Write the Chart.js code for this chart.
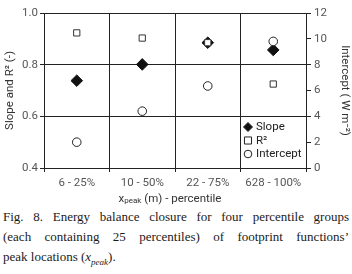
<!DOCTYPE html>
<html>
<head>
<meta charset="utf-8">
<script src="https://cdn.jsdelivr.net/npm/chart.js@4"></script>
<style>
  body { margin: 0; background: #fff; width: 352px; height: 274px; overflow: hidden; }
  #wrap { position: relative; width: 352px; height: 206px; }
  .cap { font-family: "Liberation Serif", LiberationSerif, Tinos, "Noto Serif", Times, serif; font-size: 13px; color: #1a1a1a;
         line-height: 20px; margin: 0 3px; white-space: nowrap; }
  .just { text-align: justify; text-align-last: justify; white-space: normal; }
</style>
</head>
<body>
<div id="wrap"><canvas id="chart" width="352" height="206"></canvas></div>
<div style="position:absolute; top:207px; left:0; width:352px;">
  <div class="cap just">Fig. 8. Energy balance closure for four percentile groups</div>
  <div class="cap just">(each containing 25 percentiles) of footprint functions’</div>
  <div class="cap">peak locations (<i>x<sub style="font-size:9px">peak</sub></i>).</div>
</div>
<script>
// categories and values
const groups = ['6 - 25%', '10 - 50%', '22 - 75%', '628 - 100%'];
const slope = [0.738, 0.801, 0.885, 0.857];
const r2 = [0.923, 0.903, 0.885, 0.725];
const intercept = [2.0, 4.4, 6.35, 9.8];

const leftTicks = [0.4, 0.6, 0.8, 1.0];
const rightTicks = [0, 2, 4, 6, 8, 10, 12];

const sans = 'Roboto, "Liberation Sans", Arial, sans-serif';
const tickFont = { family: sans, size: 11.5 };
const tickColor = '#555';

// legend inside the plot + x title with subscript
const extras = {
  id: 'extras',
  afterDraw(chart) {
    const c = chart.ctx;
    const a = chart.chartArea;
    c.save();
    const items = [
      { label: 'Slope', style: 'rectRot', r: 4.5, fill: '#111' },
      { label: 'R²', style: 'rect', r: 5, fill: '#fff' },
      { label: 'Intercept', style: 'circle', r: 3.8, fill: '#fff' }
    ];
    const x0 = a.right - 58, y0 = a.bottom - 41;
    c.font = '11.5px ' + sans;
    c.textBaseline = 'middle';
    items.forEach((it, i) => {
      const y = y0 + i * 13.5;
      c.fillStyle = it.fill;
      c.strokeStyle = '#222';
      c.lineWidth = 1;
      Chart.helpers.drawPoint(c, { pointStyle: it.style, radius: it.r, borderWidth: 1 }, x0, y);
      c.fillStyle = '#222';
      c.fillText(it.label, x0 + 8, y + 0.5);
    });
    // x axis title
    const big = '11.5px ' + sans;
    const small = '8px ' + sans;
    const parts = [['x', big, 0], ['peak', small, 2], [' (m) - percentile', big, 0]];
    let w = 0;
    parts.forEach(p => { c.font = p[1]; w += c.measureText(p[0]).width; });
    let x = 170 - w / 2;
    const ty = a.bottom + 31;
    c.fillStyle = '#333';
    c.textAlign = 'left';
    parts.forEach(p => {
      c.font = p[1];
      c.fillText(p[0], x, ty + p[2]);
      x += c.measureText(p[0]).width;
    });
    c.restore();
  }
};

new Chart(document.getElementById('chart'), {
  type: 'line',
  data: {
    labels: groups,
    datasets: [
      { label: 'Intercept', data: intercept, yAxisID: 'y2', showLine: false,
        pointStyle: 'circle', pointRadius: 4.3, pointBackgroundColor: '#fff',
        pointBorderColor: '#222', pointBorderWidth: 1 },
      { label: 'R²', data: r2, yAxisID: 'y', showLine: false,
        pointStyle: 'rect', pointRadius: 4.4, pointBackgroundColor: '#fff',
        pointBorderColor: '#333', pointBorderWidth: 1 },
      { label: 'Slope', data: slope, yAxisID: 'y', showLine: false,
        pointStyle: 'rectRot', pointRadius: 5.8, pointBackgroundColor: '#111',
        pointBorderColor: '#111', pointBorderWidth: 1 }
    ]
  },
  options: {
    responsive: false,
    animation: false,
    layout: { padding: { top: 13, left: 3, right: 0, bottom: 0 } },
    plugins: { legend: { display: false }, tooltip: { enabled: false } },
    scales: {
      x: {
        type: 'category',
        offset: true,
        grid: { offset: true, color: '#222', lineWidth: 1, tickLength: 4 },
        border: { color: '#222' },
        ticks: { font: tickFont, color: tickColor, padding: 4 },
        afterFit(s) { s.height = 38; }
      },
      y: {
        position: 'left',
        min: 0.4, max: 1.0,
        afterBuildTicks(s) { s.ticks = leftTicks.map(v => ({ value: v })); },
        grid: { color: '#222', lineWidth: 1, tickLength: 4 },
        border: { color: '#222' },
        ticks: { font: tickFont, color: tickColor, padding: 2,
                 callback: v => v.toFixed(1) },
        title: { display: true, text: 'Slope and R² (-)', font: tickFont, color: '#333', padding: 0 },
        afterFit(s) { s.width = 41; }
      },
      y2: {
        position: 'right',
        min: 0, max: 12,
        afterBuildTicks(s) { s.ticks = rightTicks.map(v => ({ value: v })); },
        grid: { drawOnChartArea: false, color: '#222', lineWidth: 1, tickLength: 5 },
        border: { color: '#222' },
        ticks: { font: tickFont, color: tickColor, padding: 3 },
        title: { display: true, text: 'Intercept ( W m⁻²)', font: tickFont, color: '#333', padding: 0 },
        afterFit(s) { s.width = 46; }
      }
    }
  },
  plugins: [extras]
});
</script>
</body>
</html>
